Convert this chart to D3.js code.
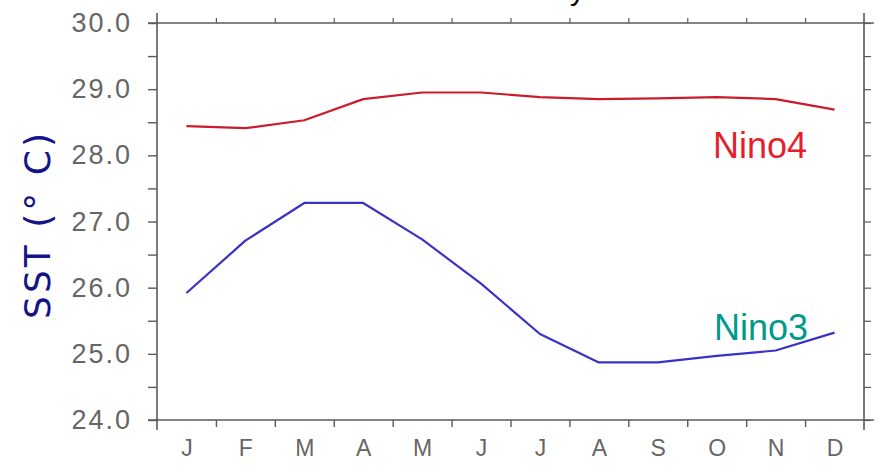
<!DOCTYPE html>
<html>
<head>
<meta charset="utf-8">
<script src="https://cdn.jsdelivr.net/npm/d3@7"></script>
<style>
  html, body { margin: 0; padding: 0; background: #fff; }
  svg { display: block; }
  .tick text { font-family: "Liberation Sans", Arial, sans-serif; fill: #666; }
</style>
</head>
<body>
<div id="chart"></div>
<script>
// Monthly SST climatology
const months = ['J', 'F', 'M', 'A', 'M', 'J', 'J', 'A', 'S', 'O', 'N', 'D'];
const nino4 = [28.44, 28.41, 28.53, 28.85, 28.95, 28.95, 28.88, 28.85, 28.86, 28.88, 28.85, 28.69];
const nino3 = [25.92, 26.71, 27.28, 27.28, 26.73, 26.06, 25.30, 24.87, 24.87, 24.97, 25.05, 25.32];
const yTicks = [24, 24.5, 25, 25.5, 26, 26.5, 27, 27.5, 28, 28.5, 29, 29.5, 30];

const width = 884, height = 468;
const box = { left: 157, right: 864, top: 23, bottom: 420 };
const axisColor = '#5a5a5a';

const svg = d3.select('#chart')
  .append('svg')
  .attr('width', width)
  .attr('height', height);

const x = d3.scaleLinear().domain([0.5, 12.5]).range([box.left, box.right]);
const y = d3.scaleLinear().domain([24, 30]).range([box.bottom, box.top]);

// title, mostly cut off by the top edge
svg.append('text')
  .attr('x', 585)
  .attr('y', 0)
  .attr('text-anchor', 'end')
  .style('font-family', '"Liberation Sans", Arial, sans-serif')
  .style('font-size', '30px')
  .attr('fill', '#000')
  .text('SST Seasonality');

// frame lines, each one running a little past the corners
const ext = 10;
const frame = [
  [box.left - 9, box.top, box.right + ext, box.top],
  [box.left - 9, box.bottom, box.right + ext, box.bottom],
  [box.left, box.top - ext, box.left, box.bottom + ext],
  [box.right, box.top - ext, box.right, box.bottom + ext]
];
svg.append('g').selectAll('line')
  .data(frame)
  .enter()
  .append('line')
  .attr('x1', d => d[0]).attr('y1', d => d[1])
  .attr('x2', d => d[2]).attr('y2', d => d[3])
  .attr('stroke', axisColor)
  .attr('stroke-width', 1.6);

// left axis with labels
const yAxis = svg.append('g')
  .attr('transform', `translate(${box.left},0)`)
  .call(d3.axisLeft(y)
    .tickValues(yTicks)
    .tickSize(9)
    .tickSizeOuter(0)
    .tickPadding(16)
    .tickFormat(d => d % 1 === 0 ? d.toFixed(1) : ''));
yAxis.select('.domain').remove();
yAxis.selectAll('.tick line').attr('stroke', axisColor).attr('stroke-width', 1.4);
yAxis.selectAll('.tick text')
  .style('font-size', '27px')
  .style('letter-spacing', '2px');

// right axis, ticks only
const yRight = svg.append('g')
  .attr('transform', `translate(${box.right},0)`)
  .call(d3.axisRight(y).tickValues(yTicks).tickSize(7).tickFormat(''));
yRight.select('.domain').remove();
yRight.selectAll('.tick line').attr('stroke', axisColor).attr('stroke-width', 1.2);

// month boundaries on the bottom and top
const bounds = d3.range(1.5, 12, 1);
const xBottom = svg.append('g')
  .attr('transform', `translate(0,${box.bottom})`)
  .call(d3.axisBottom(x).tickValues(bounds).tickSize(7).tickFormat(''));
xBottom.select('.domain').remove();
xBottom.selectAll('.tick line').attr('stroke', axisColor).attr('stroke-width', 1.4);

const xTop = svg.append('g')
  .attr('transform', `translate(0,${box.top})`)
  .call(d3.axisTop(x).tickValues(bounds).tickSize(5).tickFormat(''));
xTop.select('.domain').remove();
xTop.selectAll('.tick line').attr('stroke', axisColor).attr('stroke-width', 1.2);

// month letters at month centres
const xLabels = svg.append('g')
  .attr('transform', `translate(0,${box.bottom})`)
  .call(d3.axisBottom(x)
    .tickValues(d3.range(1, 13))
    .tickSize(0)
    .tickPadding(20)
    .tickFormat(d => months[d - 1]));
xLabels.select('.domain').remove();
xLabels.selectAll('.tick text').style('font-size', '23px');

// y axis title
svg.append('text')
  .attr('transform', 'translate(50,226) rotate(-90)')
  .attr('text-anchor', 'middle')
  .attr('textLength', 186)
  .attr('lengthAdjust', 'spacing')
  .style('font-family', '"DejaVu Sans", sans-serif')
  .style('font-size', '36px')
  .attr('fill', '#14148a')
  .text('SST (° C)');

// series lines
const line = d3.line()
  .x((d, i) => x(i + 1))
  .y(d => y(d));

svg.append('path')
  .datum(nino4)
  .attr('d', line)
  .attr('fill', 'none')
  .attr('stroke', '#cc1c2c')
  .attr('stroke-width', 2.2)
  .attr('stroke-linejoin', 'round');

svg.append('path')
  .datum(nino3)
  .attr('d', line)
  .attr('fill', 'none')
  .attr('stroke', '#3a32c6')
  .attr('stroke-width', 2.2)
  .attr('stroke-linejoin', 'round');

// series names
svg.append('text')
  .attr('x', 713)
  .attr('y', 158)
  .style('font-family', '"Liberation Sans", Arial, sans-serif')
  .style('font-size', '36px')
  .attr('fill', '#e41f2b')
  .text('Nino4');

svg.append('text')
  .attr('x', 714)
  .attr('y', 340)
  .style('font-family', '"Liberation Sans", Arial, sans-serif')
  .style('font-size', '36px')
  .attr('fill', '#00998c')
  .text('Nino3');
</script>
</body>
</html>
